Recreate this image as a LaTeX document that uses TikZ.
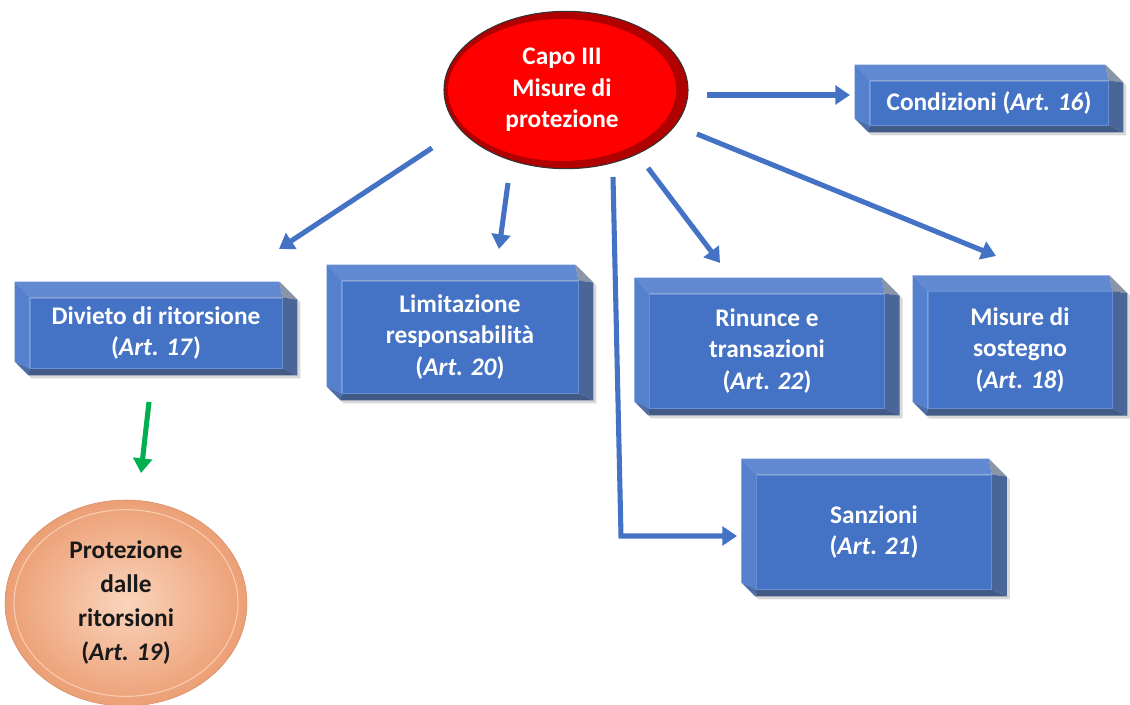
\documentclass[tikz,border=0pt]{standalone}
\usepackage{fontspec}
\setmainfont{Carlito}
\usetikzlibrary{arrows.meta,calc,shapes.geometric,backgrounds}

% palette
\definecolor{panelblue}{HTML}{4472C4}
\definecolor{panelline}{HTML}{6A8ED2}
\definecolor{bevtop}{HTML}{628AD3}
\definecolor{bevleft}{HTML}{5480CD}
\definecolor{bevright}{HTML}{4A6699}
\definecolor{bevbottom}{HTML}{425A86}
\definecolor{bevcorner}{HTML}{8A95A8}
\definecolor{bevcornerlow}{HTML}{4D6DA8}
\definecolor{arrowblue}{HTML}{4472C4}
\definecolor{arrowgreen}{HTML}{00B050}
\definecolor{capored}{HTML}{FF0000}
\definecolor{caporim}{HTML}{B00000}
\definecolor{peachin}{HTML}{FAD4BC}
\definecolor{peachout}{HTML}{EC9F75}
\definecolor{peachring}{HTML}{F8CDB2}

\tikzset{
  bodyfont/.style={font=\bfseries\fontsize{19}{23.5}\selectfont, align=center},
  panel/.style={bodyfont, rectangle, inner sep=0pt, text=white,
                fill=panelblue, draw=panelline, line width=0.6pt},
  link/.style={draw=arrowblue, line width=3.8pt, line cap=butt,
               -{Triangle[width=14pt,length=11pt]}},
  greenlink/.style={link, draw=arrowgreen},
}

% bevelled frame around a rectangular panel node
\newcommand\bevelframe[1]{%
  \begin{scope}[on background layer]
    \coordinate (OA)  at ($(#1.north west)+(-15,-16)$);
    \coordinate (ONE) at ($(#1.north east)+(15,-16)$);
    \coordinate (OSE) at ($(#1.south east)+(15,7)$);
    \coordinate (OSW) at ($(#1.south west)+(-15,7)$);
    \coordinate (B) at ($(ONE)+(-18,0)$);
    \coordinate (C) at ($(ONE)+(0,18)$);
    \coordinate (E) at ($(OSW)+(14,0)$);
    \coordinate (F) at ($(OSW)+(0,-14)$);
    % soft drop shadow
    \fill[black!30, opacity=0.5] ($(OA)+(3,3)$) -- ($(B)+(3,3)$) -- ($(C)+(3,3)$)
      -- ($(OSE)+(3,3)$) -- ($(E)+(3,3)$) -- ($(F)+(3,3)$) -- cycle;
    % bevel faces
    \fill[bevtop]    (OA) -- (B) -- (#1.north east) -- (#1.north west) -- cycle;
    \fill[bevcorner] (B) -- (C) -- (#1.north east) -- cycle;
    \fill[bevright]  (C) -- (OSE) -- (#1.south east) -- (#1.north east) -- cycle;
    \fill[bevbottom] (OSE) -- (E) -- (#1.south west) -- (#1.south east) -- cycle;
    \fill[bevcornerlow] (E) -- (F) -- (#1.south west) -- cycle;
    \fill[bevleft]   (F) -- (OA) -- (#1.north west) -- (#1.south west) -- cycle;
  \end{scope}}

\begin{document}
\begin{tikzpicture}[x=0.75pt, y=-0.75pt]
  \useasboundingbox (0,0) rectangle (1130,705);

  % central topic
  \node[ellipse, bodyfont, text=white, fill=capored, inner sep=0pt,
        minimum width=171pt, minimum height=106.5pt] (capo) at (562,90)
        {Capo III\\Misure di\\protezione};
  \begin{scope}[on background layer]
    \fill[caporim, draw=black!80, line width=0.8pt]
      (566,90) ellipse [x radius=91.5pt, y radius=59pt];
  \end{scope}

  % article panels
  \node[panel, minimum width=178.5pt, minimum height=33pt]  (cond) at (989,103)   {Condizioni (\textit{Art. 16})};
  \node[panel, minimum width=189pt,   minimum height=52.5pt] (div)  at (156,333)  {Divieto di ritorsione\\(\textit{Art. 17})};
  \node[panel, minimum width=177pt,   minimum height=84pt]  (lim)  at (460,337)   {Limitazione\\responsabilità\\(\textit{Art. 20})};
  \node[panel, minimum width=176pt,   minimum height=85.5pt] (rin)  at (767,351)  {Rinunce e\\transazioni\\(\textit{Art. 22})};
  \node[panel, minimum width=138pt,   minimum height=87.5pt] (sost) at (1020,350) {Misure di\\sostegno\\(\textit{Art. 18})};
  \node[panel, minimum width=176pt,   minimum height=85.5pt] (sanz) at (874,532)  {Sanzioni\\(\textit{Art. 21})};

  \foreach \n in {cond,div,lim,rin,sost,sanz} {\bevelframe{\n}}

  % outcome of the retaliation ban
  \node[ellipse, font=\bfseries\fontsize{19}{25.5}\selectfont, align=center,
        text=black!90, inner sep=0pt,
        shading=radial, inner color=peachin, outer color=peachout,
        draw=peachout!90!black, line width=0.4pt,
        minimum width=181.5pt, minimum height=154.5pt] (prot) at (126,603)
        {Protezione\\dalle\\ritorsioni\\(\textit{Art. 19})};
  \draw[peachring, line width=0.8pt] (prot.center) ellipse [x radius=84pt, y radius=70pt];

  % connector end points
  \coordinate (s1) at (707,95);  \coordinate (e1) at (850,95);
  \coordinate (s2) at (432,148); \coordinate (e2) at (279,249);
  \coordinate (s3) at (508,183); \coordinate (e3) at (499,249);
  \coordinate (s4) at (613,177); \coordinate (k4) at (621,536); \coordinate (e4) at (737,536);
  \coordinate (s5) at (648,168); \coordinate (e5) at (720,263);
  \coordinate (s6) at (697,134); \coordinate (e6) at (996,256);
  \coordinate (g1) at (149,402); \coordinate (g2) at (141,473);

  \draw[link] (s1) -- (e1);
  \draw[link] (s2) -- (e2);
  \draw[link] (s3) -- (e3);
  \draw[link, line join=miter] (s4) -- (k4) -- (e4);
  \draw[link] (s5) -- (e5);
  \draw[link] (s6) -- (e6);
  \draw[greenlink] (g1) -- (g2);
\end{tikzpicture}
\end{document}
